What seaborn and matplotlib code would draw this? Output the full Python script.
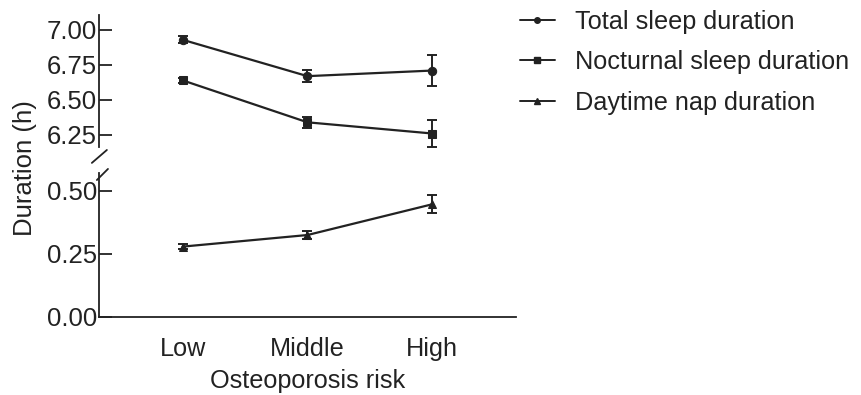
import matplotlib.pyplot as plt
import numpy as np
import pandas as pd
import seaborn as sns
from matplotlib.lines import Line2D

# Data (means and error bar half-widths, hours)
risk = ["Low", "Middle", "High"]
total_sleep = [6.93, 6.67, 6.71]
total_err = [0.025, 0.045, 0.11]
nocturnal_sleep = [6.64, 6.34, 6.26]
nocturnal_err = [0.02, 0.04, 0.10]
nap = [0.279, 0.325, 0.447]
nap_err = [0.01, 0.015, 0.035]

sns.set_style("ticks")
plt.rcParams['font.family'] = ['Liberation Sans', 'DejaVu Sans']

ink = "#222222"
fig = plt.figure(figsize=(8.62, 3.95), dpi=100)
ax_top = fig.add_axes([0.1148, 0.628, 0.4838, 0.334])
ax_bot = fig.add_axes([0.1148, 0.1975, 0.4838, 0.3646])

x = np.arange(len(risk))
series = [
    (ax_top, "Total sleep duration", total_sleep, total_err, "o", 6),
    (ax_top, "Nocturnal sleep duration", nocturnal_sleep, nocturnal_err, "s", 5.5),
    (ax_bot, "Daytime nap duration", nap, nap_err, "^", 6),
]

handles = []
for ax, name, vals, errs, mk, ms in series:
    df = pd.DataFrame({"x": x, "y": vals})
    sns.lineplot(data=df, x="x", y="y", ax=ax, color=ink, lw=1.6, marker=mk,
                 markersize=ms, markeredgecolor=ink, legend=False)
    ax.errorbar(x, vals, yerr=errs, fmt="none", ecolor=ink, elinewidth=1.4,
                capsize=3.5, capthick=1.4)
    handles.append(Line2D([], [], color=ink, lw=1.4, marker=mk, markersize=4,
                          label=name))

# Axis styling
for ax in (ax_top, ax_bot):
    ax.set_xlim(-0.67, 2.67)
    ax.set_xlabel("")
    ax.set_ylabel("")
    for s in ("top", "right"):
        ax.spines[s].set_visible(False)
    ax.spines["left"].set_color(ink)
    ax.spines["left"].set_linewidth(1.3)
    ax.tick_params(axis="y", direction="in", length=9, width=1.3, color=ink,
                   labelsize=18.5, labelcolor=ink, pad=1.5)

ax_top.set_ylim(6.164, 7.107)
ax_top.set_yticks([6.25, 6.50, 6.75, 7.00])
ax_top.set_yticklabels(["6.25", "6.50", "6.75", "7.00"])
ax_top.spines["bottom"].set_visible(False)
ax_top.set_xticks([])

ax_bot.set_ylim(0, 0.571)
ax_bot.set_yticks([0.0, 0.25, 0.50])
ax_bot.set_yticklabels(["0.00", "0.25", "0.50"])
ax_bot.spines["bottom"].set_color(ink)
ax_bot.spines["bottom"].set_linewidth(1.3)
ax_bot.set_xticks(x)
ax_bot.set_xticklabels(risk)
ax_bot.tick_params(axis="x", length=0, labelsize=18.2, labelcolor=ink, pad=14.5)
ax_bot.set_xlabel("Osteoporosis risk", fontsize=18.2, color=ink, labelpad=5.5)

# Break marks on the y axis
ax_top.plot([-0.017, 0.019], [-0.121, -0.023], transform=ax_top.transAxes,
            color=ink, lw=1.3, clip_on=False)
ax_bot.plot([-0.005, 0.0216], [0.951, 1.028], transform=ax_bot.transAxes,
            color=ink, lw=1.3, clip_on=False)

fig.text(25 / 862, 0.575, "Duration (h)", rotation=90, ha="center",
         va="center", fontsize=18.5, color=ink)

fig.legend(handles=handles, loc="upper left", bbox_to_anchor=(0.603, 0.975),
           frameon=False, fontsize=18.2, handlelength=1.4,
           handletextpad=0.8, labelspacing=0.65, borderpad=0,
           borderaxespad=0, labelcolor=ink)

fig.savefig("out.png", dpi=100)
